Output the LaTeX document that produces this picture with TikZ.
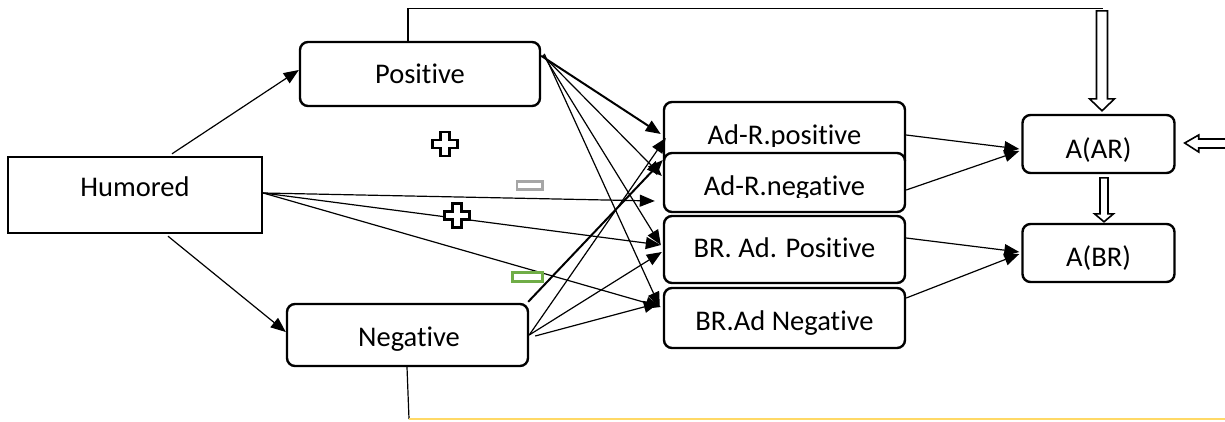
\documentclass[tikz,border=0pt]{standalone}
\usepackage{fontspec}
\setmainfont{Carlito}[Ligatures=NoCommon]
\usetikzlibrary{arrows.meta,calc}
\definecolor{feedyellow}{RGB}{255,217,102}
\definecolor{minusgray}{RGB}{166,166,166}
\definecolor{minusgreen}{RGB}{112,173,71}

\tikzset{
  box/.style={draw,line width=2.4pt,fill=white,rounded corners=8pt,inner sep=0pt},
  sqbox/.style={draw,line width=2.4pt,fill=white,inner sep=0pt},
  lbl/.style={font=\fontsize{28.5}{34}\selectfont,inner sep=0pt,anchor=base},
  link/.style={line width=1.2pt,-{Triangle[length=15pt,width=12pt]}},
  heavylink/.style={line width=2pt,-{Triangle[length=15pt,width=12pt]}},
  hollow/.style={draw,line width=1.6pt,fill=white,line join=miter},
  plusmark/.pic={
    \draw[line width=2.6pt,fill=white,line join=miter]
      (-4.5,-12) -- (4.5,-12) -- (4.5,-4) -- (12.5,-4) -- (12.5,4) -- (4.5,4) -- (4.5,12)
      -- (-4.5,12) -- (-4.5,4) -- (-12.5,4) -- (-12.5,-4) -- (-4.5,-4) -- cycle;
  },
}

\begin{document}
\begin{tikzpicture}[x=1pt,y=-1pt]
  \useasboundingbox (0,0) rectangle (1225,421);
  \clip (0,0) rectangle (1225,421);

  % boxes
  \node[sqbox,minimum width=254pt,minimum height=76pt] (hum) at (135,195) {};
  \node[box,minimum width=240pt,minimum height=64pt] (pos) at (420,74) {};
  \node[box,minimum width=241pt,minimum height=62pt] (neg) at (407.5,335) {};
  \node[box,minimum width=241pt,minimum height=66pt] (arp) at (784.5,135) {};
  \begin{scope}
    \clip (660,100) rectangle (910,146);
    \node[lbl] (arpt) at (784.5,144) {Ad-R.positive};
  \end{scope}
  \node[box,minimum width=241pt,minimum height=59pt] (arn) at (784.5,182.5) {};
  \begin{scope}
    \clip (660,150) rectangle (910,197.5);
    \node[lbl] (arnt) at (784.5,195.5) {Ad-R.negative};
  \end{scope}
  \node[box,minimum width=241pt,minimum height=67pt] (brp) at (784.5,249.5) {};
  \node[box,minimum width=241pt,minimum height=60pt] (brn) at (784.5,318) {};
  \node[box,minimum width=152pt,minimum height=58pt] (aar) at (1098.5,144) {};
  \node[box,minimum width=152pt,minimum height=58pt] (abr) at (1098.5,253) {};

  % labels
  \node[lbl] (humt) at (135,196) {Humored};
  \node[lbl] (post) at (420,83) {Positive};
  \node[lbl] (negt) at (409,346) {Negative};
  \node[lbl] (brpt) at (784.5,257) {BR. Ad. Positive};
  \node[lbl] (brnt) at (784.5,330) {BR.Ad Negative};
  \node[lbl] (aart) at (1098.5,158) {A(AR)};
  \node[lbl] (abrt) at (1098.5,266) {A(BR)};

  % from Humored
  \draw[link] ($(hum.north)+(37,-2)$) -- ($(pos.west)+(0,-4)$);
  \draw[link] ($(hum.south)+(33,2)$) -- ($(neg.west)+(0,-3)$);
  \draw[link] ($(hum.east)+(0,-2)$) -- ($(arn.west)+(-8,18.5)$);
  \draw[link] ($(hum.east)+(0,-2)$) -- ($(brp.west)+(-2,-4.5)$);
  \draw[link] ($(hum.east)+(0,-2)$) -- ($(brn.west)+(-2,-11)$);

  % from Positive
  \draw[heavylink] ($(pos.north east)+(0,15)$) -- ($(arp.west)+(-2,-1)$);
  \draw[link] ($(pos.north east)+(2,15)$) -- ($(arn.west)+(-1,-6.5)$);
  \draw[link] ($(pos.north east)+(2,14)$) -- ($(brp.west)+(-2,-4.5)$);
  \draw[link] ($(pos.north east)+(3,13)$) -- ($(brn.west)+(-3,-11)$);

  % from Negative
  \draw[heavylink] ($(neg.north east)+(-1,-1)$) -- ($(arn.west)+(0,-22.5)$);
  \draw[link] (neg.east) -- ($(arp.west)+(3,3)$);
  \draw[link] (neg.east) -- ($(brp.west)+(-1,2.5)$);
  \draw[link] ($(neg.east)+(6,1)$) -- ($(brn.west)+(-4,-15)$);

  % into the outcome boxes
  \draw[link] (arp.east) -- ($(aar.west)+(-2,5)$);
  \draw[link] ($(arn.east)+(0,7.5)$) -- ($(aar.west)+(-2,7)$);
  \draw[link] ($(brp.east)+(0,-11.5)$) -- ($(abr.west)+(-2,-1)$);
  \draw[link] ($(brn.east)+(0,-20)$) -- ($(abr.west)+(-2,1)$);

  % feedback from Positive over the top
  \draw[line width=1.3pt] ($(pos.north)+(-12,0)$) |- ($(aar.north)+(4,-105)$);
  \draw[hollow] ($(aar.north)+(3.5,-3)$) -- ++(-12.5,-12) -- ++(7,0) -- ++(0,-88)
    -- ++(11,0) -- ++(0,88) -- ++(7,0) -- cycle;

  % arrow coming in from the right
  \draw[hollow] ($(aar.east)+(9,-1)$) -- ++(14,-8) -- ++(0,4) -- ++(40,0)
    -- ++(0,9) -- ++(-40,0) -- ++(0,4) -- cycle;

  % A(AR) down to A(BR)
  \draw[hollow] ($(abr.north)+(5.5,-1)$) -- ++(-9.5,-8) -- ++(5.5,0) -- ++(0,-36)
    -- ++(8,0) -- ++(0,36) -- ++(5.5,0) -- cycle;

  % feedback from Negative along the bottom
  \coordinate (base) at (409,419);
  \draw[line width=1.2pt] ($(neg.south)+(-0.5,0)$) -- (base);
  \draw[feedyellow,line width=2.6pt] (base) -- (1230,419);

  % sign marks
  \pic at (445,144) {plusmark};
  \pic at (457,215.5) {plusmark};
  \draw[minusgray,line width=2.2pt,fill=white] (517,181.5) rectangle (542.5,189.5);
  \draw[minusgreen,line width=2.6pt,fill=white] (512.5,272.5) rectangle (542.5,281.5);
\end{tikzpicture}
\end{document}
